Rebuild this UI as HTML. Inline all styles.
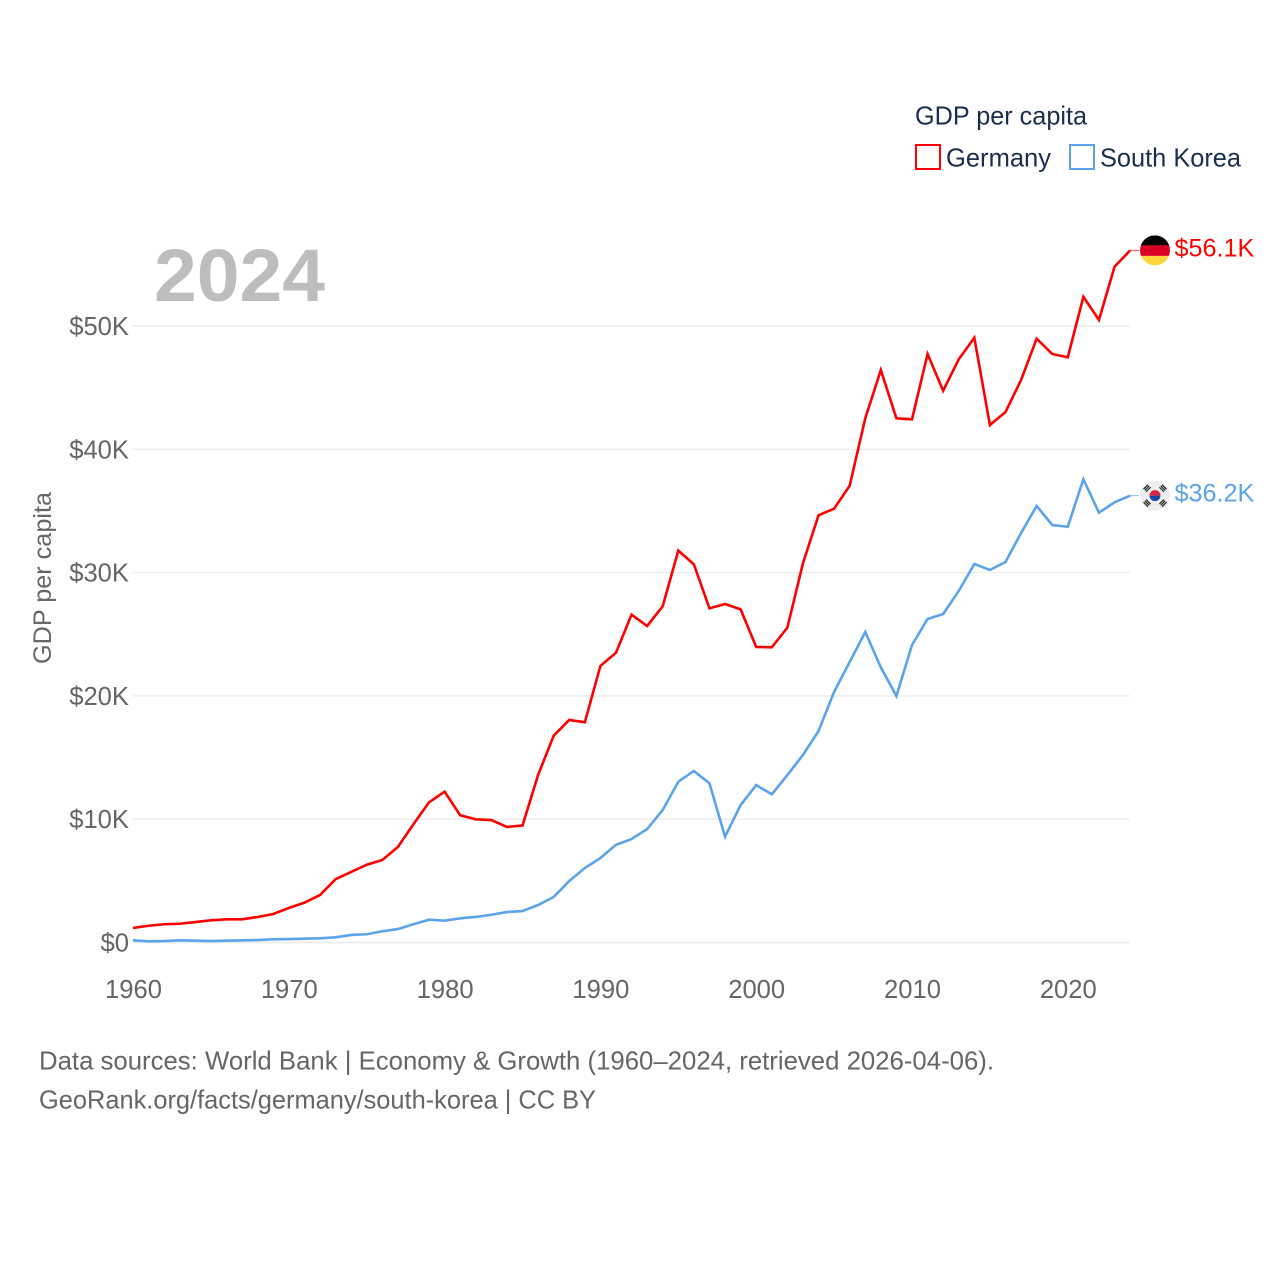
<!DOCTYPE html>
<html lang="en">
<head>
<meta charset="utf-8">
<title>GDP per capita: Germany and South Korea</title>
<style>
html,body{margin:0;padding:0;background:#fff;width:1280px;height:1280px;overflow:hidden}
svg{display:block}
text{font-family:"Liberation Sans",sans-serif}
</style>
</head>
<body>
<svg id="chart" xmlns="http://www.w3.org/2000/svg" width="1280" height="1280" viewBox="0 0 1280 1280">
  <rect width="1280" height="1280" fill="#fff"/>
  <g id="grid"></g>
  <g id="ytick-labels"></g>
  <g id="xtick-labels"></g>
  <text x="154" y="301" font-size="74" font-weight="700" fill="#bdbdbd" textLength="171" lengthAdjust="spacingAndGlyphs">2024</text>
  <text transform="translate(51,664) rotate(-90)" font-size="25" fill="#666" textLength="172" lengthAdjust="spacingAndGlyphs">GDP per capita</text>
  <g id="series"></g>

  <g>
    <text x="915" y="124.5" font-size="26" fill="#1a2f4f" textLength="172" lengthAdjust="spacingAndGlyphs">GDP per capita</text>
    <g>
      <rect x="916" y="145" width="24" height="24" fill="#fff" stroke="#ff0000" stroke-width="2"/>
      <text x="946" y="166.5" font-size="26" fill="#1a2f4f" textLength="105" lengthAdjust="spacingAndGlyphs">Germany</text>
    </g>
    <g>
      <rect x="1070" y="145" width="24" height="24" fill="#fff" stroke="#5ba4ec" stroke-width="2"/>
      <text x="1100" y="166.5" font-size="26" fill="#1a2f4f" textLength="141" lengthAdjust="spacingAndGlyphs">South Korea</text>
    </g>
  </g>

  <defs>
    <clipPath id="flag-de-clip"><circle cx="0" cy="0" r="15"/></clipPath>
  </defs>
  <g id="flag-germany">
    <g clip-path="url(#flag-de-clip)">
      <rect x="-15" y="-15" width="30" height="10" fill="#000"/>
      <rect x="-15" y="-5" width="30" height="10.5" fill="#dd0025"/>
      <rect x="-15" y="5.5" width="30" height="10" fill="#ffd53d"/>
    </g>
  </g>
  <g id="flag-korea">
    <circle r="15" fill="#eeeeee"/>
    <path d="M-5.5 0A5.5 5.5 0 0 1 5.5 0Z" fill="#e0203f"/>
    <path d="M-5.5 0A5.5 5.5 0 0 0 5.5 0Z" fill="#1a4aa8"/>
    <g stroke="#222" stroke-width="1.2" fill="none">
      <path d="M-11.5 -6.5L-7 -11M-10.2 -5.2L-5.7 -9.7M-8.9 -3.9L-4.4 -8.4"/>
      <path d="M11.5 -6.5L7 -11M10.2 -5.2L5.7 -9.7M8.9 -3.9L4.4 -8.4"/>
      <path d="M-11.5 6.5L-7 11M-10.2 5.2L-5.7 9.7M-8.9 3.9L-4.4 8.4"/>
      <path d="M11.5 6.5L7 11M10.2 5.2L5.7 9.7M8.9 3.9L4.4 8.4"/>
    </g>
  </g>
  <text id="label-germany" x="1174.5" font-size="25.2" fill="#ff0000"></text>
  <text id="label-korea" x="1174.5" font-size="25.2" fill="#5ba4ec"></text>

  <text x="39" y="1069.5" font-size="26" fill="#666" textLength="955" lengthAdjust="spacingAndGlyphs">Data sources: World Bank | Economy &amp; Growth (1960–2024, retrieved 2026-04-06).</text>
  <text x="39" y="1108.5" font-size="26" fill="#666" textLength="557" lengthAdjust="spacingAndGlyphs">GeoRank.org/facts/germany/south-korea | CC BY</text>
</svg>
<script>
const years = [1960,1961,1962,1963,1964,1965,1966,1967,1968,1969,1970,1971,1972,1973,1974,1975,1976,1977,1978,1979,1980,1981,1982,1983,1984,1985,1986,1987,1988,1989,1990,1991,1992,1993,1994,1995,1996,1997,1998,1999,2000,2001,2002,2003,2004,2005,2006,2007,2008,2009,2010,2011,2012,2013,2014,2015,2016,2017,2018,2019,2020,2021,2022,2023,2024];
const germany = [1.18,1.36,1.48,1.52,1.66,1.80,1.88,1.88,2.07,2.31,2.80,3.23,3.85,5.13,5.72,6.31,6.69,7.75,9.59,11.37,12.23,10.32,9.99,9.93,9.37,9.49,13.58,16.77,18.05,17.86,22.43,23.50,26.59,25.67,27.27,31.78,30.67,27.10,27.45,27.02,23.97,23.94,25.53,30.75,34.65,35.18,37.05,42.51,46.43,42.51,42.43,47.73,44.75,47.30,49.05,41.97,43.02,45.62,48.97,47.73,47.46,52.37,50.49,54.81,56.13];
const southKorea = [0.18,0.10,0.12,0.18,0.15,0.12,0.15,0.18,0.20,0.26,0.28,0.31,0.34,0.42,0.61,0.67,0.91,1.09,1.48,1.85,1.77,1.96,2.07,2.25,2.47,2.55,3.04,3.69,4.99,6.04,6.85,7.93,8.39,9.20,10.75,13.04,13.91,12.91,8.58,11.15,12.77,12.02,13.58,15.21,17.15,20.32,22.75,25.18,22.31,19.99,24.13,26.24,26.64,28.51,30.70,30.21,30.86,33.21,35.40,33.86,33.72,37.57,34.86,35.70,36.24];
const yTicks = [0,10,20,30,40,50];
const xTicks = [1960,1970,1980,1990,2000,2010,2020];

const NS = 'http://www.w3.org/2000/svg';
const xScale = function (year) { return 133 + (year - 1960) * 15.58; };
const yScale = function (value) { return 942.5 - value * 12.33; };

const gridGroup = document.getElementById('grid');
const yLabelGroup = document.getElementById('ytick-labels');
const xLabelGroup = document.getElementById('xtick-labels');
const seriesGroup = document.getElementById('series');

yTicks.forEach(function (tick) {
  const line = document.createElementNS(NS, 'line');
  
  
  line.setAttribute('x1', 133);
  line.setAttribute('x2', 1130);
  line.setAttribute('y1', yScale(tick));
  line.setAttribute('y2', yScale(tick));
  line.setAttribute('stroke', '#ececec');
  line.setAttribute('stroke-width', tick === 0 ? 1.8 : 1.4);
  gridGroup.appendChild(line);

  const label = document.createElementNS(NS, 'text');
  
  
  label.setAttribute('x', 129);
  label.setAttribute('y', yScale(tick) + 9);
  label.setAttribute('text-anchor', 'end');
  label.setAttribute('font-size', '25.6');
  label.setAttribute('fill', '#666');
  label.textContent = '$' + (tick === 0 ? '0' : tick + 'K');
  yLabelGroup.appendChild(label);
});

xTicks.forEach(function (tick) {
  const label = document.createElementNS(NS, 'text');
  
  
  label.setAttribute('x', xScale(tick) + 0.5);
  label.setAttribute('y', 998);
  label.setAttribute('text-anchor', 'middle');
  label.setAttribute('font-size', '25.6');
  label.setAttribute('fill', '#666');
  label.textContent = String(tick);
  xLabelGroup.appendChild(label);
});

function linePoints(values) {
  return values.map(function (v, i) {
    return xScale(years[i]).toFixed(2) + ',' + yScale(v).toFixed(2);
  }).join(' ');
}

const germanyLine = document.createElementNS(NS, 'polyline');


germanyLine.setAttribute('points', linePoints(germany));
germanyLine.setAttribute('fill', 'none');
germanyLine.setAttribute('stroke', '#ff0000');
germanyLine.setAttribute('stroke-width', '2.6');
germanyLine.setAttribute('stroke-linejoin', 'miter');
seriesGroup.appendChild(germanyLine);

const koreaLine = document.createElementNS(NS, 'polyline');


koreaLine.setAttribute('points', linePoints(southKorea));
koreaLine.setAttribute('fill', 'none');
koreaLine.setAttribute('stroke', '#5ba4ec');
koreaLine.setAttribute('stroke-width', '2.6');
koreaLine.setAttribute('stroke-linejoin', 'miter');
seriesGroup.appendChild(koreaLine);

function endConnector(values, color, name) {
  const y = yScale(values[values.length - 1]);
  const x = xScale(years[years.length - 1]);
  const conn = document.createElementNS(NS, 'line');
  
  
  conn.setAttribute('x1', x);
  conn.setAttribute('x2', x + 9);
  conn.setAttribute('y1', y);
  conn.setAttribute('y2', y);
  conn.setAttribute('stroke', color);
  conn.setAttribute('stroke-width', '1');
  conn.setAttribute('opacity', '0.7');
  seriesGroup.appendChild(conn);
  return y;
}

const germanyEndY = endConnector(germany, '#ff0000', 'germany-end-connector');
const koreaEndY = endConnector(southKorea, '#5ba4ec', 'south-korea-end-connector');

document.getElementById('flag-germany').setAttribute('transform', 'translate(1155,' + germanyEndY + ')');
document.getElementById('flag-korea').setAttribute('transform', 'translate(1155,' + koreaEndY + ')');

const germanyLabel = document.getElementById('label-germany');
germanyLabel.setAttribute('y', germanyEndY + 6);
germanyLabel.textContent = '$' + germany[germany.length - 1].toFixed(1) + 'K';
const koreaLabel = document.getElementById('label-korea');
koreaLabel.setAttribute('y', koreaEndY + 6);
koreaLabel.textContent = '$' + southKorea[southKorea.length - 1].toFixed(1) + 'K';
</script>
</body>
</html>
